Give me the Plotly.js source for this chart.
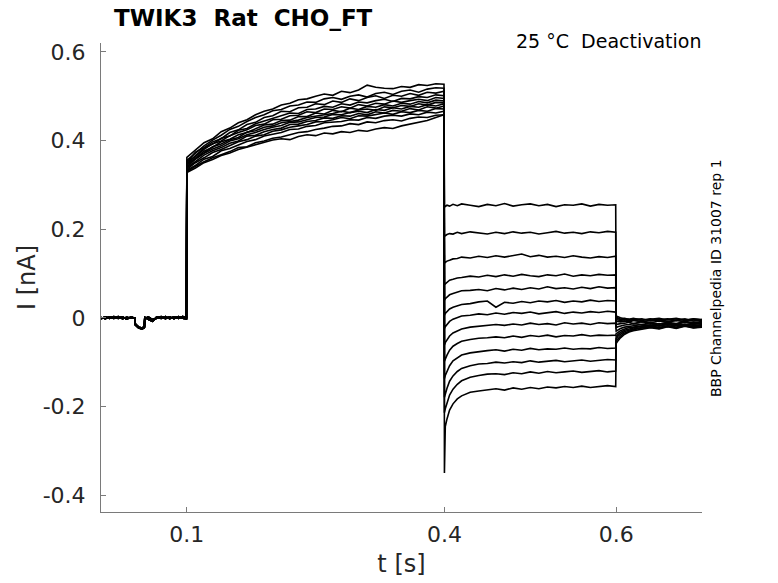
<!DOCTYPE html>
<html>
<head>
<meta charset="utf-8">
<script src="https://cdn.plot.ly/plotly-3.0.1.min.js"></script>
<style>
  html, body { margin: 0; padding: 0; background: #fff; }
  #plot { width: 778px; height: 583px; }
</style>
</head>
<body>
<div id="plot"></div>
<script>
// holding level before the step (two noisy copies, alternated between sweeps)
var tBase = [0, 0.005, 0.01, 0.015, 0.02, 0.025, 0.03, 0.035, 0.0395, 0.040, 0.044, 0.048, 0.0505, 0.051, 0.055, 0.06, 0.065, 0.07, 0.075, 0.08, 0.085, 0.09, 0.095, 0.0995];
var baseA = [0.001, -0.002, 0.002, -0.001, 0.003, -0.002, 0.001, -0.001, 0.0, -0.016, -0.023, -0.025, -0.022, 0.001, -0.003, -0.008, 0.002, -0.001, 0.003, -0.002, 0.002, -0.001, 0.003, 0.001];
var baseB = [-0.002, 0.002, -0.001, 0.003, -0.001, 0.002, -0.003, 0.002, -0.001, -0.014, -0.021, -0.023, -0.020, -0.002, 0.002, -0.004, -0.001, 0.003, -0.002, 0.002, -0.002, 0.003, -0.001, -0.002];

// activation step 0.1 - 0.4 s
var tAct = [0.1, 0.11, 0.12, 0.13, 0.14, 0.15, 0.16, 0.17, 0.18, 0.19, 0.2, 0.21, 0.22, 0.23, 0.24, 0.25, 0.26, 0.27, 0.28, 0.29, 0.3, 0.31, 0.32, 0.33, 0.34, 0.35, 0.36, 0.37, 0.38, 0.39, 0.3995];
var actSweeps = [
  [0.362, 0.378, 0.395, 0.404, 0.420, 0.428, 0.440, 0.447, 0.458, 0.466, 0.471, 0.480, 0.484, 0.492, 0.494, 0.500, 0.505, 0.502, 0.511, 0.508, 0.514, 0.525, 0.520, 0.518, 0.517, 0.522, 0.520, 0.526, 0.524, 0.528, 0.527],
  [0.355, 0.372, 0.388, 0.401, 0.412, 0.425, 0.432, 0.443, 0.452, 0.458, 0.467, 0.470, 0.478, 0.480, 0.487, 0.486, 0.494, 0.497, 0.493, 0.500, 0.503, 0.498, 0.506, 0.509, 0.504, 0.511, 0.514, 0.509, 0.516, 0.519, 0.518],
  [0.350, 0.374, 0.384, 0.397, 0.404, 0.418, 0.424, 0.436, 0.441, 0.452, 0.456, 0.466, 0.465, 0.474, 0.475, 0.483, 0.481, 0.489, 0.486, 0.494, 0.490, 0.497, 0.501, 0.495, 0.502, 0.500, 0.506, 0.502, 0.509, 0.507, 0.511],
  [0.346, 0.366, 0.383, 0.392, 0.405, 0.410, 0.423, 0.427, 0.438, 0.444, 0.449, 0.455, 0.462, 0.461, 0.470, 0.471, 0.477, 0.475, 0.483, 0.480, 0.487, 0.485, 0.490, 0.493, 0.488, 0.495, 0.494, 0.499, 0.497, 0.503, 0.501],
  [0.352, 0.364, 0.380, 0.393, 0.399, 0.411, 0.418, 0.424, 0.434, 0.437, 0.447, 0.448, 0.456, 0.457, 0.465, 0.463, 0.471, 0.470, 0.476, 0.473, 0.481, 0.478, 0.484, 0.482, 0.489, 0.486, 0.490, 0.493, 0.490, 0.497, 0.495],
  [0.344, 0.361, 0.376, 0.385, 0.397, 0.403, 0.413, 0.418, 0.426, 0.435, 0.437, 0.445, 0.446, 0.454, 0.454, 0.462, 0.460, 0.468, 0.465, 0.473, 0.470, 0.477, 0.475, 0.481, 0.478, 0.484, 0.482, 0.488, 0.485, 0.491, 0.489],
  [0.348, 0.359, 0.372, 0.386, 0.392, 0.402, 0.407, 0.419, 0.422, 0.430, 0.433, 0.440, 0.443, 0.446, 0.452, 0.455, 0.458, 0.461, 0.466, 0.463, 0.469, 0.471, 0.468, 0.476, 0.474, 0.479, 0.477, 0.483, 0.480, 0.486, 0.485],
  [0.340, 0.358, 0.371, 0.381, 0.388, 0.399, 0.404, 0.413, 0.418, 0.425, 0.430, 0.434, 0.441, 0.442, 0.447, 0.452, 0.453, 0.459, 0.458, 0.463, 0.466, 0.463, 0.470, 0.468, 0.474, 0.471, 0.477, 0.475, 0.481, 0.478, 0.483],
  [0.338, 0.353, 0.367, 0.377, 0.384, 0.394, 0.399, 0.410, 0.412, 0.420, 0.425, 0.428, 0.436, 0.437, 0.443, 0.445, 0.451, 0.450, 0.456, 0.455, 0.461, 0.458, 0.465, 0.462, 0.468, 0.466, 0.472, 0.469, 0.476, 0.473, 0.478],
  [0.335, 0.350, 0.361, 0.373, 0.380, 0.388, 0.397, 0.402, 0.410, 0.413, 0.421, 0.424, 0.430, 0.433, 0.436, 0.442, 0.443, 0.447, 0.452, 0.449, 0.456, 0.455, 0.459, 0.462, 0.459, 0.465, 0.463, 0.468, 0.466, 0.472, 0.471],
  [0.333, 0.344, 0.358, 0.364, 0.377, 0.382, 0.390, 0.398, 0.402, 0.410, 0.414, 0.418, 0.425, 0.426, 0.432, 0.434, 0.440, 0.441, 0.443, 0.447, 0.446, 0.452, 0.450, 0.455, 0.457, 0.455, 0.460, 0.458, 0.464, 0.462, 0.466],
  [0.330, 0.342, 0.352, 0.361, 0.368, 0.375, 0.384, 0.386, 0.395, 0.399, 0.405, 0.408, 0.413, 0.418, 0.420, 0.425, 0.428, 0.432, 0.433, 0.438, 0.436, 0.442, 0.440, 0.445, 0.447, 0.444, 0.450, 0.453, 0.452, 0.457, 0.458],
  [0.328, 0.338, 0.350, 0.357, 0.366, 0.372, 0.380, 0.385, 0.391, 0.395, 0.401, 0.404, 0.402, 0.409, 0.413, 0.411, 0.417, 0.415, 0.420, 0.418, 0.423, 0.421, 0.426, 0.429, 0.427, 0.433, 0.437, 0.440, 0.445, 0.452, 0.458]
];

// tail (deactivation) step 0.4 - 0.6 s, top level first
var tTail = [0.4, 0.401, 0.403, 0.406, 0.41, 0.415, 0.42, 0.43, 0.44, 0.45, 0.46, 0.47, 0.48, 0.49, 0.5, 0.51, 0.52, 0.53, 0.54, 0.55, 0.56, 0.57, 0.58, 0.59, 0.5995];
var tailSweeps = [
  [0.250, 0.252, 0.254, 0.252, 0.256, 0.253, 0.257, 0.254, 0.251, 0.256, 0.253, 0.258, 0.252, 0.255, 0.257, 0.253, 0.256, 0.251, 0.255, 0.254, 0.257, 0.252, 0.256, 0.254, 0.255],
  [0.184, 0.186, 0.188, 0.190, 0.189, 0.193, 0.190, 0.194, 0.191, 0.189, 0.193, 0.190, 0.194, 0.191, 0.193, 0.189, 0.192, 0.195, 0.191, 0.193, 0.190, 0.194, 0.192, 0.195, 0.193],
  [0.123, 0.125, 0.128, 0.130, 0.133, 0.134, 0.137, 0.135, 0.139, 0.136, 0.140, 0.137, 0.141, 0.144, 0.138, 0.141, 0.137, 0.139, 0.136, 0.140, 0.137, 0.135, 0.138, 0.136, 0.139],
  [0.075, 0.077, 0.081, 0.085, 0.087, 0.090, 0.091, 0.094, 0.092, 0.096, 0.093, 0.097, 0.094, 0.098, 0.095, 0.093, 0.097, 0.095, 0.099, 0.094, 0.097, 0.095, 0.098, 0.096, 0.097],
  [0.040, 0.043, 0.047, 0.052, 0.055, 0.058, 0.061, 0.062, 0.064, 0.061, 0.066, 0.063, 0.067, 0.064, 0.068, 0.065, 0.070, 0.066, 0.068, 0.065, 0.069, 0.066, 0.070, 0.067, 0.068],
  [0.006, 0.010, 0.014, 0.020, 0.024, 0.027, 0.030, 0.032, 0.036, 0.038, 0.024, 0.035, 0.033, 0.037, 0.034, 0.038, 0.036, 0.039, 0.035, 0.038, 0.036, 0.040, 0.037, 0.039, 0.038],
  [-0.024, -0.020, -0.015, -0.008, -0.003, 0.001, 0.004, 0.006, 0.009, 0.007, 0.011, 0.008, 0.012, 0.010, 0.013, 0.009, 0.012, 0.014, 0.010, 0.013, 0.011, 0.014, 0.012, 0.015, 0.013],
  [-0.061, -0.056, -0.050, -0.041, -0.034, -0.029, -0.025, -0.021, -0.019, -0.018, -0.015, -0.017, -0.014, -0.016, -0.012, -0.015, -0.013, -0.016, -0.011, -0.014, -0.012, -0.015, -0.011, -0.013, -0.012],
  [-0.098, -0.092, -0.084, -0.073, -0.064, -0.058, -0.053, -0.049, -0.046, -0.045, -0.043, -0.045, -0.041, -0.044, -0.040, -0.042, -0.039, -0.043, -0.040, -0.041, -0.038, -0.041, -0.039, -0.040, -0.039],
  [-0.137, -0.130, -0.121, -0.108, -0.097, -0.090, -0.084, -0.079, -0.076, -0.074, -0.072, -0.075, -0.071, -0.073, -0.069, -0.072, -0.070, -0.071, -0.068, -0.071, -0.069, -0.070, -0.067, -0.069, -0.068],
  [-0.179, -0.170, -0.159, -0.143, -0.131, -0.121, -0.114, -0.108, -0.104, -0.103, -0.100, -0.102, -0.099, -0.101, -0.097, -0.100, -0.098, -0.096, -0.099, -0.097, -0.095, -0.098, -0.096, -0.094, -0.095],
  [-0.214, -0.205, -0.192, -0.174, -0.161, -0.150, -0.142, -0.134, -0.130, -0.127, -0.126, -0.128, -0.124, -0.126, -0.122, -0.125, -0.121, -0.124, -0.122, -0.120, -0.123, -0.121, -0.119, -0.122, -0.120],
  [-0.350, -0.245, -0.228, -0.208, -0.194, -0.183, -0.176, -0.168, -0.165, -0.162, -0.160, -0.163, -0.158, -0.161, -0.157, -0.160, -0.156, -0.158, -0.155, -0.157, -0.154, -0.157, -0.155, -0.153, -0.155]
];

// back to holding, 0.6 - 0.7 s
var tEnd = [0.6, 0.602, 0.605, 0.61, 0.615, 0.62, 0.63, 0.64, 0.65, 0.66, 0.67, 0.68, 0.69, 0.7];
var endSweeps = [
  [0.004, 0.002, 0.000, -0.002, -0.003, -0.001, -0.005, -0.002, -0.006, -0.003, -0.001, -0.005, -0.002, -0.004],
  [0.002, 0.000, -0.003, -0.001, -0.004, -0.002, -0.006, -0.003, -0.001, -0.005, -0.002, -0.006, -0.003, -0.005],
  [0.000, -0.002, -0.004, -0.003, -0.006, -0.004, -0.002, -0.007, -0.004, -0.002, -0.006, -0.003, -0.007, -0.004],
  [-0.004, -0.005, -0.006, -0.004, -0.008, -0.005, -0.009, -0.006, -0.004, -0.008, -0.005, -0.003, -0.007, -0.006],
  [-0.008, -0.008, -0.009, -0.007, -0.010, -0.006, -0.009, -0.011, -0.007, -0.010, -0.006, -0.009, -0.012, -0.008],
  [-0.015, -0.014, -0.013, -0.012, -0.010, -0.013, -0.009, -0.012, -0.014, -0.010, -0.013, -0.008, -0.011, -0.010],
  [-0.022, -0.020, -0.018, -0.016, -0.015, -0.013, -0.015, -0.011, -0.014, -0.012, -0.015, -0.010, -0.013, -0.012],
  [-0.030, -0.027, -0.024, -0.021, -0.019, -0.018, -0.015, -0.017, -0.013, -0.016, -0.014, -0.017, -0.012, -0.015],
  [-0.036, -0.033, -0.029, -0.025, -0.022, -0.021, -0.018, -0.016, -0.019, -0.015, -0.018, -0.014, -0.017, -0.016],
  [-0.042, -0.038, -0.033, -0.028, -0.025, -0.023, -0.019, -0.021, -0.017, -0.020, -0.016, -0.019, -0.015, -0.018],
  [-0.047, -0.042, -0.037, -0.031, -0.028, -0.025, -0.022, -0.019, -0.022, -0.018, -0.021, -0.017, -0.020, -0.019],
  [-0.052, -0.047, -0.041, -0.034, -0.030, -0.027, -0.023, -0.021, -0.024, -0.019, -0.023, -0.018, -0.022, -0.020],
  [-0.058, -0.052, -0.045, -0.037, -0.032, -0.029, -0.025, -0.022, -0.025, -0.020, -0.024, -0.019, -0.023, -0.021]
];

var xTicks = [0.1, 0.4, 0.6];
var yTicks = [-0.4, -0.2, 0, 0.2, 0.4, 0.6];
var yTickText = ['-0.4', '-0.2', '0', '0.2', '0.4', '0.6'];

var tAll = tBase.concat(tAct, tTail, tEnd);
var traces = [];
for (var i = 0; i < tailSweeps.length; i++) {
  var base = (i % 2 == 0) ? baseA : baseB;
  traces.push({
    x: tAll,
    y: base.concat(actSweeps[i], tailSweeps[i], endSweeps[i]),
    type: 'scatter',
    mode: 'lines',
    line: {color: '#000', width: 1.6},
    hoverinfo: 'skip',
    showlegend: false
  });
}

var font = 'DejaVu Sans, sans-serif';
var axisCol = '#7a7a7a';

var layout = {
  width: 778,
  height: 583,
  margin: {l: 101, r: 76, t: 43, b: 71},
  paper_bgcolor: '#fff',
  plot_bgcolor: '#fff',
  font: {family: font, color: '#262626'},
  title: {
    text: '<b>TWIK3  Rat  CHO_FT</b>',
    font: {family: font, size: 23, color: '#000'},
    x: 114 / 778, xanchor: 'left', xref: 'container',
    y: 1 - 18 / 583, yanchor: 'middle', yref: 'container'
  },
  xaxis: {
    range: [0, 0.7],
    tickvals: xTicks,
    ticktext: xTicks.map(String),
    ticks: 'inside', ticklen: 5, tickcolor: axisCol,
    showline: true, linecolor: axisCol, linewidth: 1,
    showgrid: false, zeroline: false,
    tickfont: {family: font, size: 22, color: '#262626'},
    ticklabelstandoff: 3,
    title: {text: 't [s]', font: {family: font, size: 24, color: '#262626'}, standoff: 8}
  },
  yaxis: {
    range: [-0.438, 0.62],
    tickvals: yTicks,
    ticktext: yTickText,
    ticks: 'inside', ticklen: 5, tickcolor: axisCol,
    showline: true, linecolor: axisCol, linewidth: 1,
    showgrid: false, zeroline: false,
    tickfont: {family: font, size: 22, color: '#262626'},
    ticklabelstandoff: 10,
    title: {text: 'I [nA]', font: {family: font, size: 24, color: '#262626'}, standoff: 0}
  },
  annotations: [
    {
      text: '25 °C  Deactivation',
      xref: 'paper', yref: 'paper',
      x: (703 - 101) / 601, y: 1 + 2 / 469,
      xanchor: 'right', yanchor: 'middle',
      showarrow: false,
      font: {family: font, size: 19, color: '#000'}
    },
    {
      text: 'BBP Channelpedia ID 31007 rep 1',
      xref: 'paper', yref: 'paper',
      x: (716 - 101) / 601, y: (512 - 278) / 469,
      xanchor: 'center', yanchor: 'middle',
      textangle: -90,
      showarrow: false,
      font: {family: font, size: 14, color: '#000'}
    }
  ]
};

Plotly.newPlot('plot', traces, layout, {displayModeBar: false, staticPlot: true});
</script>
</body>
</html>
